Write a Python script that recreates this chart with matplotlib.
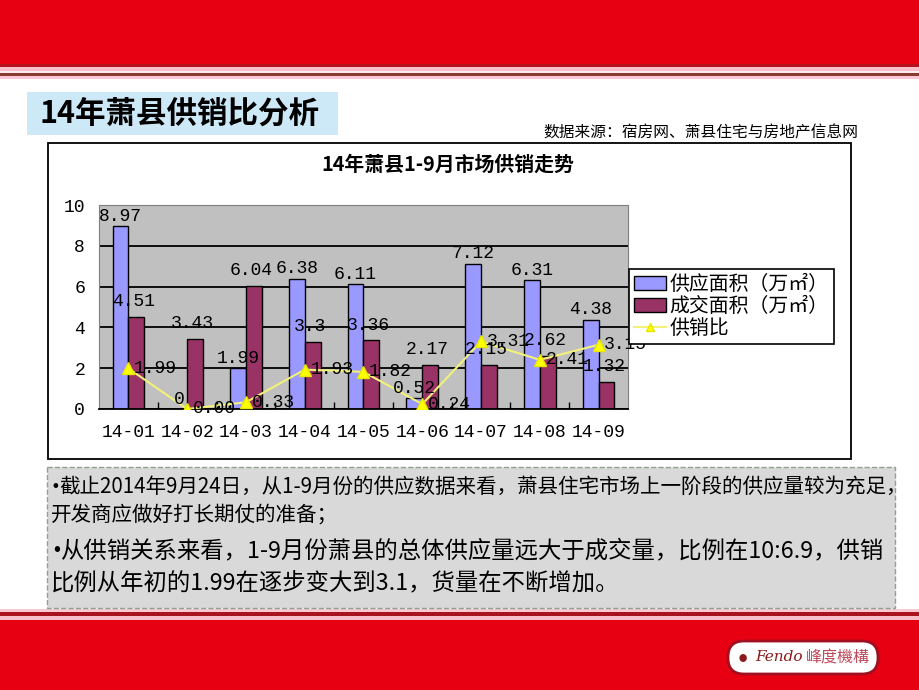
import matplotlib.pyplot as plt
from matplotlib.patches import Rectangle, FancyBboxPatch, Patch
from matplotlib.lines import Line2D
import numpy as np

plt.rcParams['font.family'] = ['Noto Sans CJK SC', 'DejaVu Sans']

# data
months = ['14-01', '14-02', '14-03', '14-04', '14-05', '14-06', '14-07', '14-08', '14-09']
supply = [8.97, 0, 1.99, 6.38, 6.11, 0.52, 7.12, 6.31, 4.38]
deal = [4.51, 3.43, 6.04, 3.3, 3.36, 2.17, 2.15, 2.62, 1.32]
ratio = [1.99, 0.00, 0.33, 1.93, 1.82, 0.24, 3.31, 2.41, 3.15]
series_names = ['供应面积（万㎡）', '成交面积（万㎡）', '供销比']

page_title = '14年萧县供销比分析'
source = '数据来源：宿房网、萧县住宅与房地产信息网'
chart_title = '14年萧县1-9月市场供销走势'
notes = ['•截止2014年9月24日，从1-9月份的供应数据来看，萧县住宅市场上一阶段的供应量较为充足，',
         '开发商应做好打长期仗的准备；',
         '•从供销关系来看，1-9月份萧县的总体供应量远大于成交量，比例在10:6.9，供销',
         '比例从年初的1.99在逐步变大到3.1，货量在不断增加。']
note_sizes = [14.8, 14.8, 16.8, 16.8]
note_y = [487, 515, 551, 584]

W, H = 920, 690
fig = plt.figure(figsize=(W / 100, H / 100), dpi=100)

# page layer in pixel coords
bg = fig.add_axes([0, 0, 1, 1])
bg.set_xlim(0, W)
bg.set_ylim(H, 0)
bg.axis('off')


def band(y0, y1, color):
    bg.add_patch(Rectangle((0, y0), W, y1 - y0, color=color, lw=0))


# header stripes
band(0, 64, '#E60012')
band(64, 67, '#B3121E')
band(67, 71, '#F8BFCB')
band(71, 73, '#FDE9EE')
band(73, 76, '#8A3A2E')
band(76, 79, '#F9C8D3')
# footer stripes
band(609, 612, '#F9C8D3')
band(612, 616, '#A8131D')
band(616, 620, '#F8BFCB')
band(620, H, '#E60012')

# title block
bg.add_patch(Rectangle((27, 92), 311, 43, color='#CDE8F7', lw=0))
bg.text(40, 114, page_title, fontsize=22, fontweight='bold', va='center', ha='left')
bg.text(858, 133, source, fontsize=11.3, va='center', ha='right')

# chart frame
bg.add_patch(Rectangle((48, 143), 803, 316, fc='white', ec='black', lw=1.3))
bg.text(448, 164, chart_title, fontsize=14.3, fontweight='bold', ha='center', va='center')

# notes box
bg.add_patch(Rectangle((47, 467), 848, 141, fc='#D9D9D9', ec='#8FA08F', lw=1, ls='--'))
for y, size, line in zip(note_y, note_sizes, notes):
    x0 = 51
    if line.startswith('•'):
        bg.text(x0, y, '•', fontsize=size * 0.8, family='DejaVu Sans', ha='left', va='center')
        line = line[1:]
        x0 += size * 0.55
    bg.text(x0, y, line, fontsize=size, ha='left', va='center')

# footer logo
bg.add_patch(FancyBboxPatch((728, 641), 150, 33, boxstyle='round,pad=0,rounding_size=16',
                            fc='white', ec='#A01020', lw=2))
bg.text(743, 658, '●', fontsize=6, color='#8B1A1A', ha='center', va='center')
bg.text(779, 657, 'Fendo', fontsize=11, color='#8B1A1A', style='italic',
        family='DejaVu Serif', ha='center', va='center')
bg.text(838, 658, '峰度機構', fontsize=11.5, color='#C0485A', ha='center', va='center')

# chart
ax = fig.add_axes([99 / W, 1 - 409 / H, 529 / W, 204 / H])
ax.set_facecolor('#C0C0C0')
x = np.arange(len(months))
w = 0.27
ax.bar(x - w / 2, supply, w, color='#9999FF', edgecolor='black', lw=1, zorder=2)
ax.bar(x + w / 2, deal, w, color='#993366', edgecolor='black', lw=1, zorder=2)
ax.plot(x, ratio, color='#F2F27A', lw=1.5, marker='^', ms=8, mfc='#FFFF00',
        mec='#E6E600', zorder=3)

num_font = dict(family='Liberation Mono', fontsize=13, color='black')
for xi, v in zip(x, supply):
    ax.annotate(f'{v:g}', (xi - w / 2, v), xytext=(0, 1), textcoords='offset points',
                ha='center', va='bottom', zorder=4, **num_font)
for xi, v in zip(x, deal):
    ax.annotate(f'{v:g}', (xi + w / 2, v), xytext=(-2, 5), textcoords='offset points',
                ha='center', va='bottom', zorder=4, **num_font)
for xi, v in zip(x, ratio):
    ax.annotate(f'{v:.2f}', (xi, v), xytext=(4, 0), textcoords='offset points',
                ha='left', va='center', zorder=4, **num_font)

ax.set_xlim(-0.5, len(months) - 0.5)
ax.set_ylim(0, 10)
ax.set_yticks(range(0, 11, 2))
ax.set_xticks(x)
ax.set_xticklabels(months)
ax.set_xticks(x[:-1] + 0.5, minor=True)
ax.tick_params(axis='x', which='major', length=0, pad=11)
ax.tick_params(axis='x', which='minor', direction='in', length=5, width=1, color='black')
ax.tick_params(axis='y', length=0, pad=10)
for lab in ax.get_xticklabels() + ax.get_yticklabels():
    lab.set_family('Liberation Mono')
    lab.set_fontsize(13)
ax.yaxis.grid(True, color='black', lw=1.3, zorder=1)
ax.set_axisbelow(True)
for s in ['top', 'right', 'left']:
    ax.spines[s].set_color('#808080')
ax.spines['bottom'].set_color('black')
ax.spines['bottom'].set_linewidth(1.3)

handles = [Patch(fc='#9999FF', ec='black', lw=1),
           Patch(fc='#993366', ec='black', lw=1),
           Line2D([], [], color='#F2F27A', lw=1.5, marker='^', ms=6, mfc='#FFFF00', mec='#E6E600')]
leg = ax.legend(handles, series_names, loc='upper left', bbox_to_anchor=(629 / W, 1 - 269 / H),
                bbox_transform=fig.transFigure, fontsize=14.3, frameon=True, fancybox=False,
                framealpha=1, edgecolor='black', borderpad=0.25, labelspacing=0.05,
                handlelength=1.6, handletextpad=0.2, borderaxespad=0)
leg.get_frame().set_linewidth(1.2)
leg.set_zorder(10)

fig.savefig('out.png', dpi=100)
